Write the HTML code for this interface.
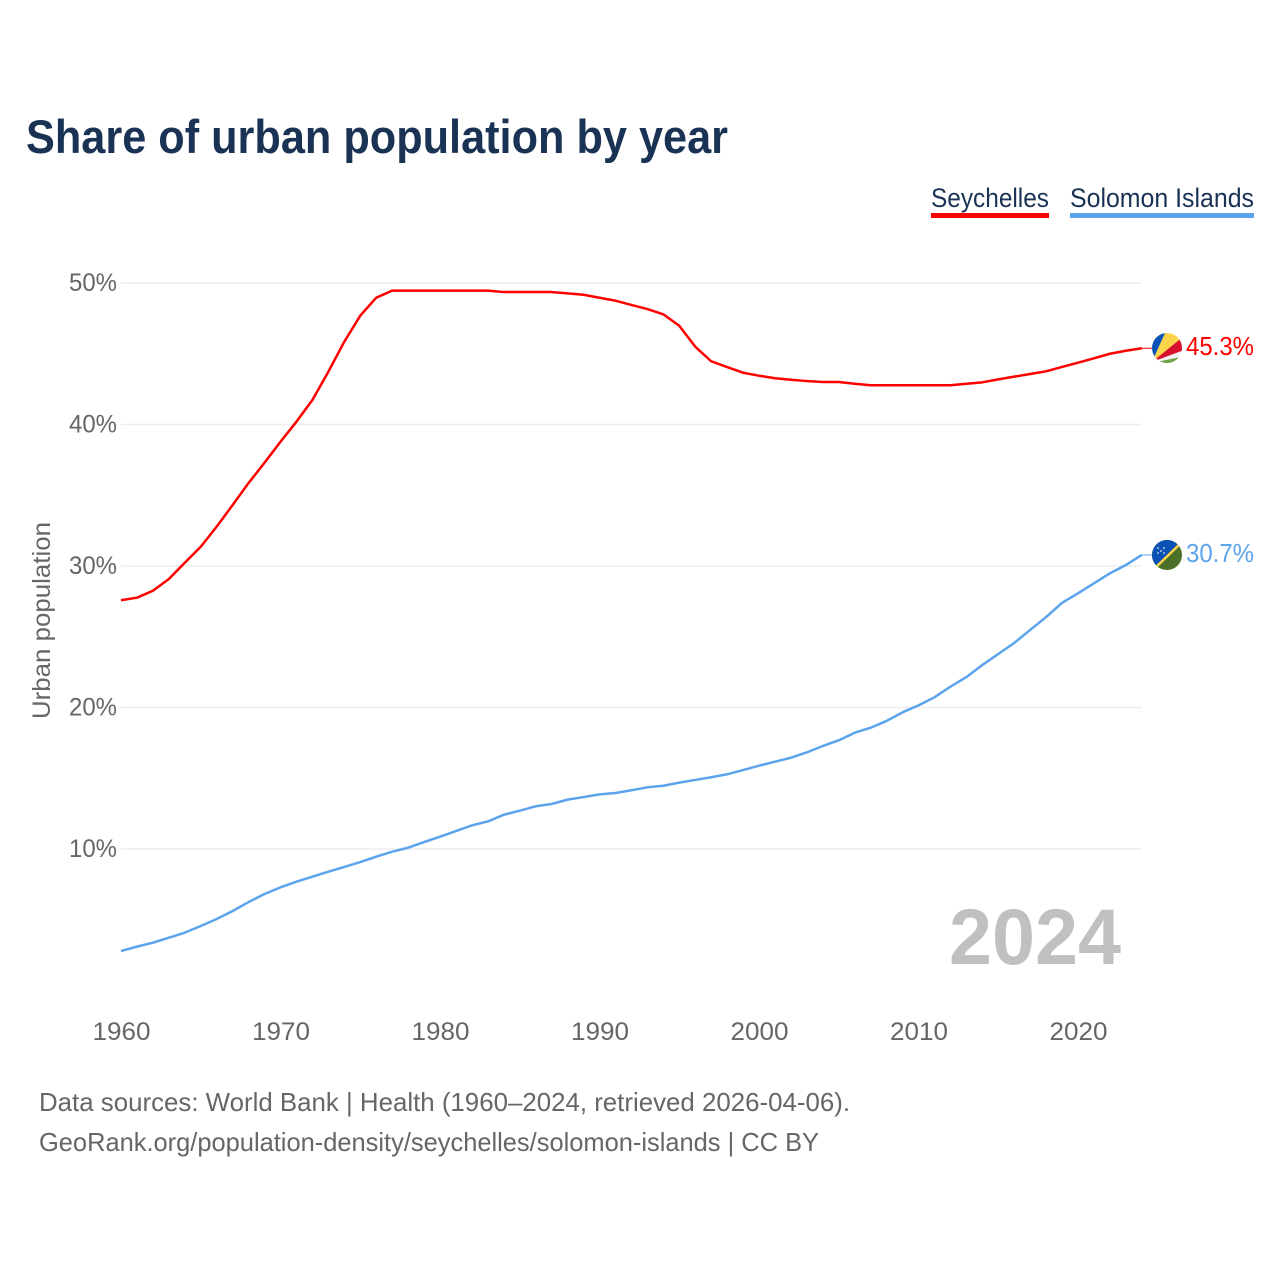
<!DOCTYPE html>
<html lang="en">
<head>
<meta charset="utf-8">
<title>Share of urban population by year</title>
<style>
  html, body { margin: 0; padding: 0; background: #fff; }
  svg { display: block; font-family: "Liberation Sans", sans-serif; }
</style>
</head>
<body>
<svg id="chart" xmlns="http://www.w3.org/2000/svg" width="1280" height="1280" viewBox="0 0 1280 1280">
  <defs>
    <clipPath id="clip-sc"><circle cx="1167" cy="348" r="15"></circle></clipPath>
    <clipPath id="clip-sb"><circle cx="1167" cy="555" r="15"></circle></clipPath>
  </defs>
  <rect x="0" y="0" width="1280" height="1280" fill="#ffffff"></rect>
  <text x="26" y="153" font-size="47" font-weight="700" fill="#1a3355" textLength="702" lengthAdjust="spacingAndGlyphs">Share of urban population by year</text>

  <g>
    <g>
      <text x="931" y="207" font-size="27" fill="#1a3355" textLength="118" lengthAdjust="spacingAndGlyphs">Seychelles</text>
      <rect x="931" y="213" width="118" height="5" fill="#ff0000"></rect>
    </g>
    <g>
      <text x="1070" y="207" font-size="27" fill="#1a3355" textLength="184" lengthAdjust="spacingAndGlyphs">Solomon Islands</text>
      <rect x="1070" y="213" width="184" height="5" fill="#5ba4ec"></rect>
    </g>
  </g>

  <g id="grid"></g>
  <g id="y-ticks"></g>
  <g id="x-ticks"></g>
  <text transform="translate(50,620.5) rotate(-90)" text-anchor="middle" font-size="25" fill="#666666" textLength="197" lengthAdjust="spacingAndGlyphs">Urban population</text>

  <text x="949" y="964" font-size="79" font-weight="700" fill="#c0c0c0" textLength="172" lengthAdjust="spacingAndGlyphs">2024</text>

  <g id="series"></g>

  <g clip-path="url(#clip-sc)">
    <rect x="1150" y="331" width="34" height="34" fill="#f2f2f2"></rect>
    <polygon points="1152,362 1166,331 1148,331 1148,362" fill="#0a52b5"></polygon>
    <polygon points="1152,362 1166,331 1184,331 1184,336" fill="#fcd449"></polygon>
    <polygon points="1152,362 1184,336 1184,350" fill="#d90f2e"></polygon>
    <polygon points="1156,362 1184,356.5 1184,366 1156,366" fill="#6f9f45"></polygon>
  </g>
  <g clip-path="url(#clip-sb)">
    <rect x="1150" y="538" width="34" height="34" fill="#4d7029"></rect>
    <polygon points="1150,538 1184,538 1150,572" fill="#0a52b5"></polygon>
    <line x1="1154" y1="569" x2="1182" y2="542" stroke="#fcd449" stroke-width="2.5"></line>
    <circle cx="1158" cy="548" r="0.9" fill="#dfe8f5"></circle>
    <circle cx="1164" cy="548" r="0.9" fill="#dfe8f5"></circle>
    <circle cx="1161" cy="551" r="0.9" fill="#dfe8f5"></circle>
    <circle cx="1158" cy="553" r="0.9" fill="#dfe8f5"></circle>
    <circle cx="1164" cy="553" r="0.9" fill="#dfe8f5"></circle>
  </g>

  <text id="value-sc" x="1186" y="355" font-size="26" fill="#ff0000" textLength="68" lengthAdjust="spacingAndGlyphs"></text>
  <text id="value-sb" x="1186" y="562" font-size="26" fill="#5ba4ec" textLength="68" lengthAdjust="spacingAndGlyphs"></text>

  <g>
    <text x="39" y="1111" font-size="26" fill="#666666" textLength="811" lengthAdjust="spacingAndGlyphs">Data sources: World Bank | Health (1960–2024, retrieved 2026-04-06).</text>
    <text x="39" y="1151" font-size="26" fill="#666666" textLength="780" lengthAdjust="spacingAndGlyphs">GeoRank.org/population-density/seychelles/solomon-islands | CC BY</text>
  </g>
</svg>

<script>
const startYear = 1960;
const xTickYears = [1960, 1970, 1980, 1990, 2000, 2010, 2020];
const yTickValues = [10, 20, 30, 40, 50];
const seychellesValues = [
  27.58, 27.76, 28.25, 29.08, 30.23, 31.36, 32.78, 34.31, 35.87, 37.30,
  38.78, 40.20, 41.73, 43.73, 45.85, 47.69, 48.96, 49.46, 49.46, 49.46,
  49.46, 49.46, 49.46, 49.46, 49.36, 49.36, 49.36, 49.36, 49.27, 49.17,
  48.96, 48.75, 48.45, 48.16, 47.79, 46.98, 45.50, 44.47, 44.06, 43.66,
  43.45, 43.27, 43.16, 43.07, 43.00, 43.00, 42.88, 42.77, 42.77, 42.77,
  42.77, 42.77, 42.77, 42.88, 42.98, 43.19, 43.38, 43.57, 43.76, 44.07,
  44.37, 44.68, 45.00, 45.21, 45.39
];
const solomonValues = [
  2.79, 3.10, 3.38, 3.73, 4.09, 4.56, 5.05, 5.62, 6.25, 6.82,
  7.29, 7.69, 8.04, 8.40, 8.73, 9.08, 9.46, 9.81, 10.09, 10.49,
  10.87, 11.27, 11.67, 11.95, 12.42, 12.71, 13.02, 13.18, 13.49, 13.67,
  13.86, 13.96, 14.15, 14.36, 14.47, 14.69, 14.88, 15.07, 15.28, 15.58,
  15.89, 16.17, 16.45, 16.83, 17.28, 17.68, 18.22, 18.57, 19.05, 19.66,
  20.15, 20.72, 21.47, 22.15, 23.00, 23.78, 24.56, 25.48, 26.39, 27.40,
  28.07, 28.78, 29.48, 30.07, 30.78
];
const seychellesLabel = "45.3%";
const solomonLabel = "30.7%";

const SVG_NS = "http://www.w3.org/2000/svg";
const xScale = function (year) { return 121 + (year - 1960) * 15.95; };
const yScale = function (value) { return 990.5 - value * 14.15; };

const gridGroup = document.getElementById("grid");
const yTickGroup = document.getElementById("y-ticks");
const xTickGroup = document.getElementById("x-ticks");
const seriesGroup = document.getElementById("series");
const plotRight = xScale(2024);

yTickValues.forEach(function (value) {
  const line = document.createElementNS(SVG_NS, "line");
  
  
  line.setAttribute("x1", xScale(1960));
  line.setAttribute("x2", plotRight);
  line.setAttribute("y1", yScale(value));
  line.setAttribute("y2", yScale(value));
  line.setAttribute("stroke", "#eeeeee");
  line.setAttribute("stroke-width", "1.5");
  gridGroup.appendChild(line);

  const label = document.createElementNS(SVG_NS, "text");
  
  
  label.setAttribute("x", 69);
  label.setAttribute("y", yScale(value) + 8);
  label.setAttribute("font-size", "25");
  label.setAttribute("fill", "#666666");
  label.setAttribute("textLength", "48");
  label.setAttribute("lengthAdjust", "spacingAndGlyphs");
  label.textContent = value + "%";
  yTickGroup.appendChild(label);
});

xTickYears.forEach(function (year) {
  const label = document.createElementNS(SVG_NS, "text");
  
  
  label.setAttribute("x", xScale(year) - 29 + 0.5);
  label.setAttribute("y", 1040);
  label.setAttribute("font-size", "25");
  label.setAttribute("fill", "#666666");
  label.setAttribute("textLength", "58");
  label.setAttribute("lengthAdjust", "spacingAndGlyphs");
  label.textContent = year;
  xTickGroup.appendChild(label);
});

function linePoints(values) {
  return values.map(function (value, i) {
    return xScale(startYear + i).toFixed(2) + "," + yScale(value).toFixed(2);
  }).join(" ");
}

const seychellesLine = document.createElementNS(SVG_NS, "polyline");


seychellesLine.setAttribute("points", linePoints(seychellesValues));
seychellesLine.setAttribute("fill", "none");
seychellesLine.setAttribute("stroke", "#ff0000");
seychellesLine.setAttribute("stroke-width", "2.5");
seychellesLine.setAttribute("stroke-linejoin", "round");
seriesGroup.appendChild(seychellesLine);

const solomonLine = document.createElementNS(SVG_NS, "polyline");


solomonLine.setAttribute("points", linePoints(solomonValues));
solomonLine.setAttribute("fill", "none");
solomonLine.setAttribute("stroke", "#5ba4ec");
solomonLine.setAttribute("stroke-width", "2.5");
solomonLine.setAttribute("stroke-linejoin", "round");
seriesGroup.appendChild(solomonLine);

const seychellesLeader = document.createElementNS(SVG_NS, "line");


seychellesLeader.setAttribute("x1", plotRight);
seychellesLeader.setAttribute("x2", 1153);
seychellesLeader.setAttribute("y1", yScale(seychellesValues[seychellesValues.length - 1]));
seychellesLeader.setAttribute("y2", yScale(seychellesValues[seychellesValues.length - 1]));
seychellesLeader.setAttribute("stroke", "#ff0000");
seychellesLeader.setAttribute("stroke-width", "1");
seriesGroup.appendChild(seychellesLeader);

const solomonLeader = document.createElementNS(SVG_NS, "line");


solomonLeader.setAttribute("x1", plotRight);
solomonLeader.setAttribute("x2", 1153);
solomonLeader.setAttribute("y1", yScale(solomonValues[solomonValues.length - 1]));
solomonLeader.setAttribute("y2", yScale(solomonValues[solomonValues.length - 1]));
solomonLeader.setAttribute("stroke", "#5ba4ec");
solomonLeader.setAttribute("stroke-width", "1");
seriesGroup.appendChild(solomonLeader);

document.getElementById("value-sc").textContent = seychellesLabel;
document.getElementById("value-sb").textContent = solomonLabel;
</script>
</body>
</html>
